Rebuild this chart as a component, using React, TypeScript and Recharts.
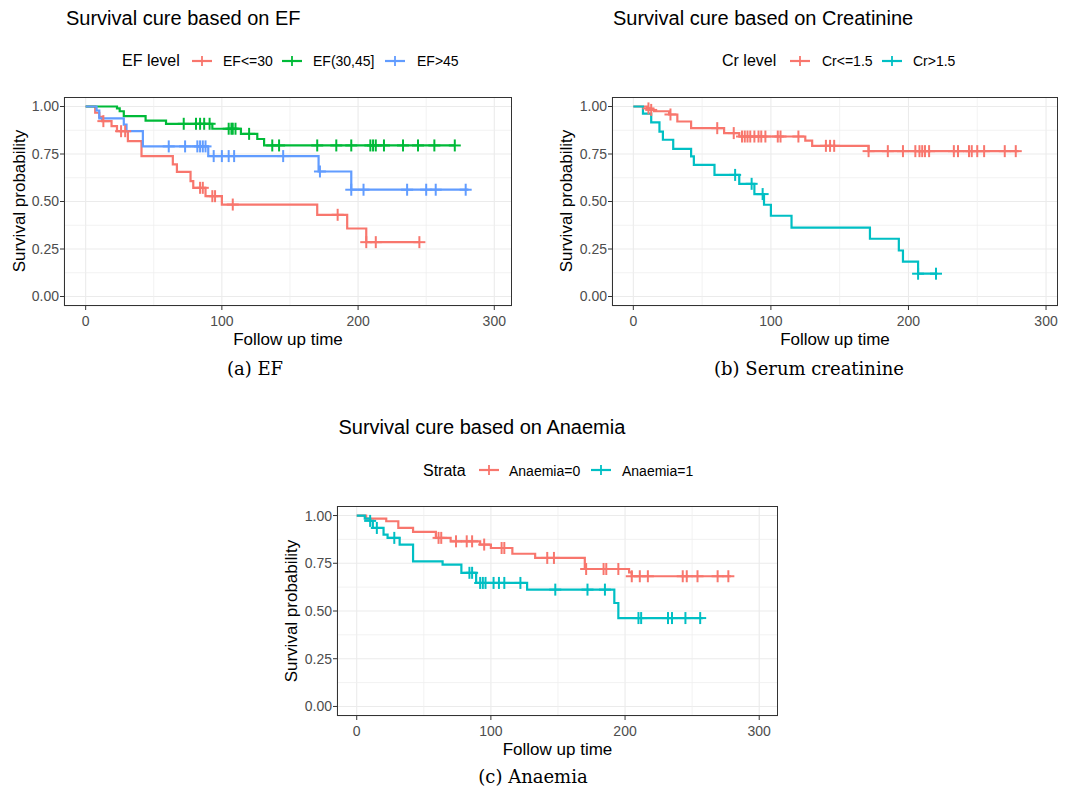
import React from 'react';
import {
  ComposedChart,
  Line,
  Scatter,
  XAxis,
  YAxis,
  CartesianGrid,
  ReferenceLine
} from 'recharts';

const RED = '#F8766D';
const GREEN = '#00BA38';
const BLUE = '#619CFF';
const CYAN = '#00BFC4';

const FONT = '"Liberation Sans", Arial, sans-serif';
const SERIF = '"DejaVu Serif", serif';

// shared axes
const xTicks = [0, 100, 200, 300];
const xMinor = [50, 150, 250];
const yTicks = [0, 0.25, 0.5, 0.75, 1];
const yMinor = [0.125, 0.375, 0.625, 0.875];

// (a) EF  -- [time, survival after the drop]
const efLowSteps: [number, number][] = [
  [0, 1], [7, 0.967], [10, 0.945], [12, 0.923], [19, 0.897], [23, 0.87], [31, 0.818],
  [41, 0.739], [64, 0.695], [67, 0.656], [77, 0.607], [79, 0.572], [88, 0.528],
  [100, 0.484], [170, 0.43], [192, 0.358], [206, 0.286]
];
const efLowCensor = [13, 26, 29, 84, 86, 93, 95, 108, 185, 206, 213, 245];
const efLowEnd = 245;

const efMidSteps: [number, number][] = [
  [0, 1], [23, 0.99], [25, 0.975], [28, 0.949], [44, 0.926], [59, 0.909], [93, 0.883],
  [114, 0.856], [126, 0.829], [131, 0.795]
];
const efMidCensor = [72, 81, 84, 87, 91, 105, 107, 108, 110, 120, 137, 142, 170, 184, 195, 209, 211, 213, 219, 233, 244, 256, 271];
const efMidEnd = 271;

const efHighSteps: [number, number][] = [
  [0, 1], [8, 0.979], [10, 0.937], [28, 0.905], [30, 0.87], [42, 0.79], [90, 0.739],
  [171, 0.658], [195, 0.562]
];
const efHighCensor = [61, 73, 82, 84, 86, 88, 94, 100, 105, 109, 145, 172, 195, 204, 236, 250, 257, 279];
const efHighEnd = 281;

// (b) Serum creatinine
const crLowSteps: [number, number][] = [
  [0, 1], [10, 0.99], [12, 0.982], [15, 0.975], [26, 0.958], [32, 0.921], [42, 0.886],
  [66, 0.86], [77, 0.842], [125, 0.82], [130, 0.793], [171, 0.765]
];
const crLowCensor = [11, 13, 27, 61, 73, 79, 81, 83, 85, 88, 91, 93, 96, 105, 107, 120, 140, 143, 146, 171, 185, 196, 205, 208, 210, 212, 215, 233, 236, 244, 246, 250, 255, 270, 278];
const crLowEnd = 280;

const crHighSteps: [number, number][] = [
  [0, 1], [7, 0.962], [13, 0.916], [19, 0.868], [21.5, 0.825], [29, 0.777], [42, 0.737],
  [44, 0.693], [59, 0.64], [77, 0.593], [88, 0.539], [95, 0.483], [100, 0.425],
  [115, 0.363], [172, 0.304], [193, 0.242], [196, 0.184], [207, 0.12]
];
const crHighCensor = [74, 86, 94, 207, 220];
const crHighEnd = 221;

// (c) Anaemia
const anNoSteps: [number, number][] = [
  [0, 1], [7, 0.984], [22, 0.97], [31, 0.935], [42, 0.914], [59, 0.883], [70, 0.865],
  [92, 0.848], [100, 0.83], [116, 0.8], [133, 0.778], [170, 0.72], [203, 0.702], [205, 0.682]
];
const anNoCensor = [61, 63, 74, 82, 86, 95, 108, 110, 142, 147, 171, 184, 186, 195, 205, 211, 217, 243, 246, 254, 269, 277];
const anNoEnd = 279;

const anYesSteps: [number, number][] = [
  [0, 1], [6, 0.984], [10, 0.972], [12, 0.935], [20, 0.9], [23, 0.883], [32, 0.848],
  [42, 0.76], [64, 0.743], [78, 0.7], [89, 0.647], [127, 0.612], [192, 0.542], [195, 0.463]
];
const anYesCensor = [10, 15, 28, 84, 86, 92, 94, 96, 102, 106, 110, 122, 148, 172, 185, 210, 212, 232, 235, 245, 256];
const anYesEnd = 258;

type Strata = { color: string; steps: [number, number][]; censor: number[]; end: number };

const survAt = (steps: [number, number][], t: number) => {
  let s = steps[0][1];
  for (const [x, v] of steps) if (x <= t) s = v;
  return s;
};

const curvePoints = (st: Strata) => [
  ...st.steps.map(([t, s]) => ({ t, s })),
  { t: st.end, s: st.steps[st.steps.length - 1][1] }
];

const censorPoints = (st: Strata) => st.censor.map(t => ({ t, s: survAt(st.steps, t) }));

const Cross = ({ cx, cy, color }: any) => (
  <g>
    <line x1={cx - 6} x2={cx + 6} y1={cy} y2={cy} stroke={color} strokeWidth={2} />
    <line x1={cx} x2={cx} y1={cy - 6} y2={cy + 6} stroke={color} strokeWidth={2} />
  </g>
);

const YW = 60;
const XH = 40;

const KMPanel = ({ box, xDomain, strata }: { box: any; xDomain: number[]; strata: Strata[] }) => (
  <div style={{ position: 'absolute', left: box.x - YW, top: box.y }}>
    <ComposedChart width={box.w + YW} height={box.h + XH} margin={{ top: 0, right: 0, bottom: 0, left: 0 }}>
      <CartesianGrid stroke="#EBEBEB" strokeWidth={1.1} />
      {xMinor.map(v => <ReferenceLine key={'mx' + v} x={v} stroke="#EFEFEF" strokeWidth={0.8} />)}
      {yMinor.map(v => <ReferenceLine key={'my' + v} y={v} stroke="#EFEFEF" strokeWidth={0.8} />)}
      <XAxis
        type="number"
        dataKey="t"
        domain={xDomain}
        ticks={xTicks}
        allowDataOverflow
        height={XH}
        axisLine={false}
        tickLine={{ stroke: '#333333' }}
        tickSize={4}
        tickMargin={6}
        tick={{ fill: '#4D4D4D', fontSize: 14, fontFamily: FONT }}
      />
      <YAxis
        type="number"
        domain={[-0.05, 1.05]}
        ticks={yTicks}
        allowDataOverflow
        width={YW}
        axisLine={false}
        tickLine={{ stroke: '#333333' }}
        tickSize={4}
        tickMargin={1}
        tickFormatter={(v: number) => v.toFixed(2)}
        tick={{ fill: '#4D4D4D', fontSize: 14, fontFamily: FONT }}
      />
      {strata.map((st, i) => (
        <Line
          key={'l' + i}
          data={curvePoints(st)}
          dataKey="s"
          type="stepAfter"
          stroke={st.color}
          strokeWidth={2.2}
          dot={false}
          isAnimationActive={false}
        />
      ))}
      {strata.map((st, i) => (
        <Scatter
          key={'c' + i}
          data={censorPoints(st)}
          dataKey="s"
          fill={st.color}
          shape={(p: any) => <Cross cx={p.cx} cy={p.cy} color={st.color} />}
          isAnimationActive={false}
        />
      ))}
    </ComposedChart>
    <div
      style={{
        position: 'absolute', left: YW, top: 0, width: box.w, height: box.h,
        border: '1px solid #333333', boxSizing: 'border-box', pointerEvents: 'none'
      }}
    />
  </div>
);

const LegendKey = ({ x, y, color }: { x: number; y: number; color: string }) => (
  <g>
    <line x1={x} x2={x + 20} y1={y} y2={y} stroke={color} strokeWidth={2.2} />
    <line x1={x + 10} x2={x + 10} y1={y - 5} y2={y + 5} stroke={color} strokeWidth={1.8} />
  </g>
);

const p1 = { x: 64, y: 97, w: 448, h: 209 };
const p2 = { x: 612, y: 97, w: 446, h: 209 };
const p3 = { x: 337, y: 506, w: 441, h: 210 };

export default function App() {
  const efStrata: Strata[] = [
    { color: RED, steps: efLowSteps, censor: efLowCensor, end: efLowEnd },
    { color: GREEN, steps: efMidSteps, censor: efMidCensor, end: efMidEnd },
    { color: BLUE, steps: efHighSteps, censor: efHighCensor, end: efHighEnd }
  ];
  const crStrata: Strata[] = [
    { color: RED, steps: crLowSteps, censor: crLowCensor, end: crLowEnd },
    { color: CYAN, steps: crHighSteps, censor: crHighCensor, end: crHighEnd }
  ];
  const anStrata: Strata[] = [
    { color: RED, steps: anNoSteps, censor: anNoCensor, end: anNoEnd },
    { color: CYAN, steps: anYesSteps, censor: anYesCensor, end: anYesEnd }
  ];

  return (
    <div style={{ position: 'absolute', left: 0, top: 0, width: 1065, height: 794, background: '#fff', fontFamily: FONT }}>
      <KMPanel box={p1} xDomain={[-15.9, 313]} strata={efStrata} />
      <KMPanel box={p2} xDomain={[-15.5, 308.7]} strata={crStrata} />
      <KMPanel box={p3} xDomain={[-14.7, 314]} strata={anStrata} />

      <svg width={1065} height={794} style={{ position: 'absolute', left: 0, top: 0, pointerEvents: 'none' }}>
        <g fontFamily={FONT} fill="#000">
          {/* (a) */}
          <text x={66} y={25} fontSize={20}>Survival cure based on EF</text>
          <text x={122} y={66} fontSize={16}>EF level</text>
          <LegendKey x={192} y={61} color={RED} />
          <text x={223} y={66} fontSize={14}>EF&lt;=30</text>
          <LegendKey x={282} y={61} color={GREEN} />
          <text x={313} y={66} fontSize={14}>EF(30,45]</text>
          <LegendKey x={385} y={61} color={BLUE} />
          <text x={417} y={66} fontSize={14}>EF&gt;45</text>
          <text x={24.5} y={201} fontSize={17} textAnchor="middle" transform="rotate(-90 24.5 201)">Survival probability</text>
          <text x={288} y={345} fontSize={17} textAnchor="middle">Follow up time</text>

          {/* (b) */}
          <text x={613} y={25} fontSize={20}>Survival cure based on Creatinine</text>
          <text x={722} y={66} fontSize={16}>Cr level</text>
          <LegendKey x={790} y={61} color={RED} />
          <text x={822} y={66} fontSize={14}>Cr&lt;=1.5</text>
          <LegendKey x={882} y={61} color={CYAN} />
          <text x={913} y={66} fontSize={14}>Cr&gt;1.5</text>
          <text x={572} y={201} fontSize={17} textAnchor="middle" transform="rotate(-90 572 201)">Survival probability</text>
          <text x={835} y={345} fontSize={17} textAnchor="middle">Follow up time</text>

          {/* (c) */}
          <text x={338.5} y={434} fontSize={20}>Survival cure based on Anaemia</text>
          <text x={423} y={476} fontSize={16}>Strata</text>
          <LegendKey x={479} y={470} color={RED} />
          <text x={509} y={476} fontSize={14}>Anaemia=0</text>
          <LegendKey x={591} y={470} color={CYAN} />
          <text x={622} y={476} fontSize={14}>Anaemia=1</text>
          <text x={296.5} y={611} fontSize={17} textAnchor="middle" transform="rotate(-90 296.5 611)">Survival probability</text>
          <text x={557.5} y={755} fontSize={17} textAnchor="middle">Follow up time</text>
        </g>
        <g fontFamily={SERIF} fill="#000" fontSize={18}>
          <text x={255} y={375} textAnchor="middle">(a) EF</text>
          <text x={809} y={375} textAnchor="middle">(b) Serum creatinine</text>
          <text x={533} y={783} textAnchor="middle">(c) Anaemia</text>
        </g>
      </svg>
    </div>
  );
}
